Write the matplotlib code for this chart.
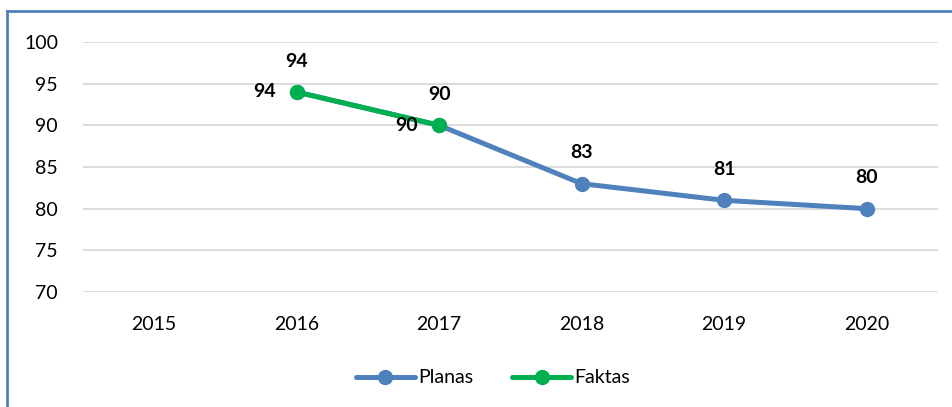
import matplotlib.pyplot as plt
import matplotlib.lines as mlines
import numpy as np

plt.rcParams['font.family'] = ['Lato', 'DejaVu Sans']

years = ["2015", "2016", "2017", "2018", "2019", "2020"]
planas = [np.nan, 94, 90, 83, 81, 80]
faktas = [np.nan, 94, 90, np.nan, np.nan, np.nan]

blue = "#4f81bd"
green = "#00b050"

fig = plt.figure(figsize=(9.53, 4.07), dpi=100)
ax = fig.add_axes([0.0871, 0.2826, 0.8969, 0.6142])

x = np.arange(len(years))
ax.plot(x, planas, color=blue, lw=3.6, marker="o", ms=10, label="Planas",
        solid_capstyle="round")
ax.plot(x, faktas, color=green, lw=3.6, marker="o", ms=10, label="Faktas",
        solid_capstyle="round")

for i, v in enumerate(planas):
    if not np.isnan(v):
        ax.annotate(f"{v:.0f}", (i, v), xytext=(0, 16), textcoords="offset points",
                    ha="center", va="bottom", fontsize=14, fontweight="bold")
for i, v in enumerate(faktas):
    if not np.isnan(v):
        ax.annotate(f"{v:.0f}", (i, v), xytext=(-15, 0), textcoords="offset points",
                    ha="right", va="center", fontsize=14, fontweight="bold")

ax.set_xlim(-0.5, len(years) - 0.5)
ax.set_ylim(70, 100)
ax.set_yticks(range(70, 101, 5))
ax.set_xticks(x)
ax.set_xticklabels(years)
ax.grid(axis="y", color="#d9d9d9", lw=1.3)
ax.set_axisbelow(True)
for s in ax.spines.values():
    s.set_visible(False)
ax.tick_params(length=0, labelsize=14, colors="black")
ax.tick_params(axis="y", pad=18)
ax.tick_params(axis="x", pad=17)

ax.legend(loc="upper center", bbox_to_anchor=(0.48, -0.24), ncol=2, frameon=False,
          fontsize=14, handlelength=3, handletextpad=0.2, columnspacing=2.0)

# chart frame (left and top edges)
fig.add_artist(mlines.Line2D([0.0073, 0.0073], [0, 0.972], color=blue, lw=2,
                             transform=fig.transFigure))
fig.add_artist(mlines.Line2D([0.0073, 1.0], [0.972, 0.972], color=blue, lw=2,
                             transform=fig.transFigure))

fig.savefig("out.png", dpi=100)
